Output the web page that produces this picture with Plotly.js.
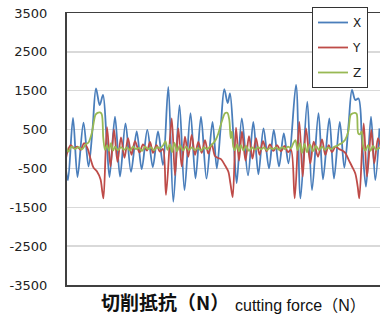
<!DOCTYPE html>
<html>
<head>
<meta charset="utf-8">
<script src="https://cdn.plot.ly/plotly-3.0.1.min.js"></script>
<style>html,body{margin:0;padding:0;background:#fff;}#chart{width:380px;height:318px;}</style>
</head>
<body>
<div id="chart"></div>
<script>
// sample time (arbitrary units) and force values (N) for each direction
const timeX = [66,68,73,77.5,83.5,88.5,92.5,96,99.7,103,106.5,109.5,115,120,125.5,131,136.7,141.7,147.3,152.8,158,163,168.3,173.3,179.5,184.5,190.5,195.5,201,206.5,212.5,216.8,220.8,224.3,227.7,230,233.5,236.7,241.8,248,253.3,258.4,263.5,269,273.8,279,283.8,288.5,296,300.5,307.3,312,318.5,323,329.3,334,339.8,344.3,348.5,352,355.3,358.5,362,366,371,375.3,379.5];
const forceX = [-550,-800,800,-720,680,-450,500,1560,1130,1390,300,-720,830,-710,660,-590,450,-520,490,-465,450,-410,1600,-1360,1130,-1060,920,-760,830,-760,700,-500,600,1540,1180,1430,300,-880,790,-680,700,-650,530,-500,490,-450,400,-370,1650,-1270,1220,-1060,920,-780,790,-760,700,-480,600,1520,1260,1300,200,-970,830,-800,530];

const timeY = [66,67.5,70.7,74,77.3,80.7,84,87.3,90.5,93.5,97,100.5,102.3,103.5,107,110.5,114,117.5,121,124.5,128,131.5,135,139.5,143,147,150,153,156.5,160,163,166,171.7,175,178.3,181.7,185,188.3,191.7,195,198.3,201.7,205,208.3,211.7,215,218,221,225,228.3,230.5,232.7,236,239,242,245.5,249,252.5,256,259.5,263,266.5,270,273.5,277,281,284.5,288,291,294.7,299.3,302.7,306,310.3,313.7,318,322,325.3,328.7,332,335.5,339,343,345.3,348.7,352,355.3,357.7,359.3,363.7,367,371.3,374.3,378,381];
const forceY = [-240,-70,100,20,60,-20,150,30,-250,-480,-580,-780,-1100,-1270,560,-450,500,-330,300,-230,280,-150,200,-90,120,-40,180,-100,100,-70,0,-1180,790,-680,530,-450,320,-200,360,-150,180,-100,230,-120,120,-180,-230,-260,-420,-580,-900,-1240,550,-300,450,-300,330,-250,280,-150,200,-60,120,-50,100,-60,80,-80,-20,-1270,700,-710,530,-370,190,-200,250,-150,100,-80,60,0,-50,-100,-280,-450,-630,-970,-1270,660,-710,490,-370,280,0];

const timeZ = [66,68.3,71.7,75,78.5,82,85.7,88.3,91.7,93.5,95.5,97.5,100,101.7,103.3,105,107,109,111,113,115,118,121,124,127,130,133,136,139,142,145,148,151,154,157,160,163,165.5,167.5,170,172,174.5,177,180,183,186,189,192,195,198,201,204,207,210,213.3,216,218.3,221.7,225,227.3,229.3,230.7,232,233.3,235,237,239,241,243.5,246,249,252,255,258,261,264,267,270,273,276,279,282,285,288,291,293,295.5,297.5,300,302,304.5,307,310,313,316,319,322,325,328,331,334,337,339.5,341.7,345,348.3,350.7,353,355,356.7,358.3,360,361.7,363.3,365.5,368,370.5,373,376,379,381];
const forceZ = [80,-70,60,0,50,-10,120,160,400,650,880,930,940,900,280,-20,100,-50,150,-40,60,-30,50,-20,40,-40,60,0,30,-50,60,0,40,-30,50,20,90,200,-20,120,-80,160,-60,100,-40,60,-20,40,-30,30,-40,40,0,60,150,250,400,700,920,930,750,280,450,60,-30,120,-60,100,-40,80,-50,40,-20,50,-10,40,-30,30,0,40,-20,50,0,60,20,130,230,-30,150,-100,130,-80,110,-60,80,-30,60,-20,40,0,50,80,120,150,230,450,880,920,930,900,400,380,450,60,-40,100,-50,80,-20,30,0];

const seriesNames = ['X', 'Y', 'Z'];
const yTicks = [-3500, -2500, -1500, -500, 500, 1500, 2500, 3500];
const titleJa = '切削抵抗（N）';
const titleEn = 'cutting force（N）';

const colors = ['#4A7EBB', '#BE4B48', '#98B954'];
const times = [timeX, timeY, timeZ];
const forces = [forceX, forceY, forceZ];

const traces = seriesNames.map((n, i) => ({
  type: 'scatter', mode: 'lines', name: n,
  x: times[i], y: forces[i],
  legendgroup: n,
  line: {color: colors[i], width: 1.8, shape: 'spline', smoothing: 0.9},
  hoverinfo: 'skip'
}));

const layout = {
  width: 380, height: 318,
  margin: {l: 67, r: 0, t: 13, b: 33, pad: 0, autoexpand: false},
  paper_bgcolor: '#ffffff', plot_bgcolor: '#ffffff',
  showlegend: true,
  legend: {
    xref: 'paper', yref: 'paper',
    x: (312-67)/313, y: 1 + 6/272, xanchor: 'left', yanchor: 'top',
    bgcolor: '#ffffff', bordercolor: '#333333', borderwidth: 1,
    font: {family: 'DejaVu Sans, sans-serif', size: 12, color: '#222'},
    tracegroupgap: 6, traceorder: 'grouped'
  },
  xaxis: {
    range: [67, 380], showticklabels: false, showgrid: false, zeroline: false,
    showline: true, linecolor: '#404040', linewidth: 1.5, mirror: true, ticks: ''
  },
  yaxis: {
    range: [-3500, 3500], tickvals: yTicks, ticktext: yTicks.map(String),
    showgrid: true, gridcolor: '#d9d9d9', gridwidth: 1.5, zeroline: false,
    showline: true, linecolor: '#404040', linewidth: 2, ticks: '',
    ticklabelstandoff: 15,
    tickfont: {family: 'DejaVu Sans, sans-serif', size: 13, color: '#222'}
  },
  annotations: [
    {text: titleJa, xref: 'paper', yref: 'paper', x: (99-67)/313, y: (285-317)/272,
     xanchor: 'left', yanchor: 'bottom', showarrow: false,
     font: {family: 'Noto Sans CJK JP, sans-serif', size: 19, weight: 'bold', color: '#111'}},
    {text: titleEn, xref: 'paper', yref: 'paper', x: (233-67)/313, y: (285-305)/272,
     xanchor: 'left', yanchor: 'middle', showarrow: false,
     font: {family: 'Liberation Sans, Noto Sans CJK JP, sans-serif', size: 16, color: '#111'}}
  ]
};

Plotly.newPlot('chart', traces, layout, {displayModeBar: false, staticPlot: true});
</script>
</body>
</html>
